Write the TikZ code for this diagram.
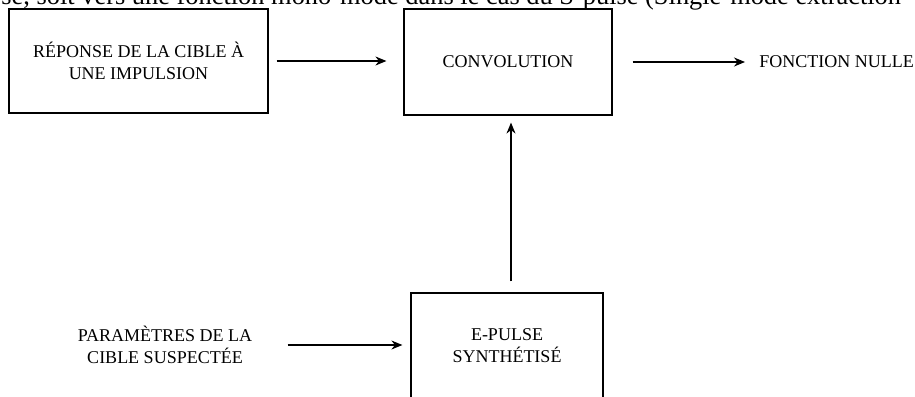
\documentclass[tikz,border=0pt]{standalone}
\usepackage{fontspec}
\setmainfont{Liberation Serif}
\usetikzlibrary{positioning}
\usetikzlibrary{arrows.meta}
\tikzset{bloc/.style={draw, line width=0.6pt, align=center, font=\fontsize{9}{11}\selectfont, inner sep=0pt}}
\tikzset{texte/.style={align=center, inner sep=0pt, font=\fontsize{9}{11}\selectfont}}
\tikzset{fleche/.style={-{Stealth[length=5.5pt,width=4.5pt]}, line width=0.6pt}}

\begin{document}
\begin{tikzpicture}[x=0.5pt,y=-0.5pt]
\useasboundingbox (0,0) rectangle (915,396);
\clip (0,0) rectangle (915,396);
% ligne de texte coupee en haut
\node[anchor=base west, inner sep=0pt, font=\fontsize{13.2}{15}\selectfont] (ligne) at (1,4) {se, soit vers une fonction mono-mode dans le cas du S-pulse (Single-mode extraction};
\node[bloc, minimum width=129.5pt, minimum height=52pt] (reponse) at (138.5,61) {RÉPONSE DE LA CIBLE À\\UNE IMPULSION};
\node[bloc, minimum width=104pt, minimum height=53pt] (conv) at (508,62) {CONVOLUTION};
\node[bloc, minimum width=96pt, minimum height=53pt] (epulse) at (507,346) {E-PULSE\\SYNTHÉTISÉ};
\node[texte, anchor=west] (nulle) at (759,62) {FONCTION NULLE};
\node[texte] (params) at (165,345) {PARAMÈTRES DE LA\\CIBLE SUSPECTÉE};
\draw[fleche, shorten <=4pt, shorten >=8.5pt] (reponse.east) -- (reponse.east -| conv.west);
\draw[fleche, shorten <=10pt, shorten >=7pt] (conv.east) -- (nulle.west);
\draw[fleche, shorten <=5.5pt, shorten >=3.5pt] ([xshift=2pt]epulse.north) -- ([xshift=2pt]epulse.north |- conv.south);
\draw[fleche, shorten <=17.5pt, shorten >=4pt] (params.east) -- (params.east -| epulse.west);
\end{tikzpicture}
\end{document}
